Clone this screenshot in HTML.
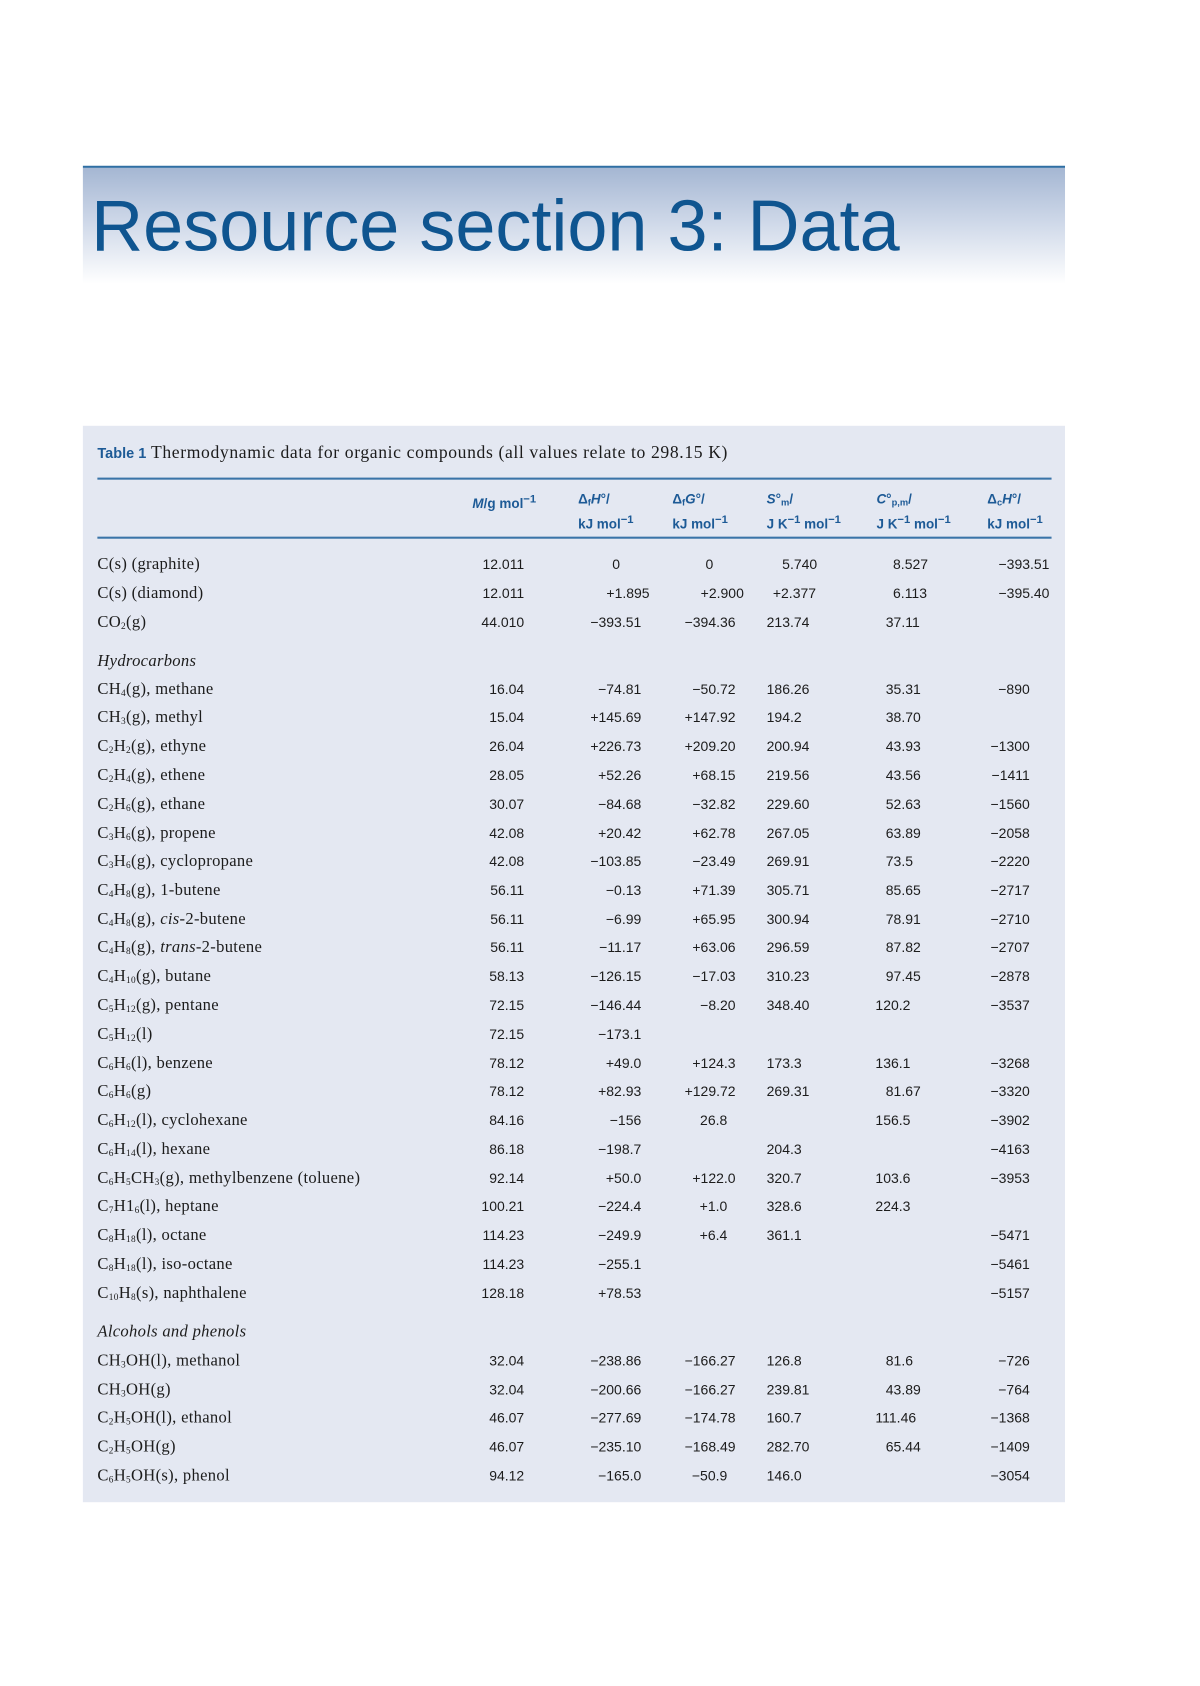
<!DOCTYPE html>
<html><head><meta charset="utf-8"><style>
body{margin:0;width:1200px;height:1627px;background:#fff;overflow:hidden;font-family:"Liberation Serif",serif;color:#1c1c1c}
#w{position:absolute;left:0;top:0;width:1200px;height:1627px;transform:scale(1.036);transform-origin:0 0}
.hdr{position:absolute;left:80px;top:160px;width:948px;height:112px;background:linear-gradient(#a5b7d3,#cdd7e8 45%,#fff);border-top:2px solid #2f6ea3}
.ttl{position:absolute;left:88px;top:178px;font-family:"Liberation Sans",sans-serif;font-size:69.5px;color:#0f5590;white-space:nowrap}
.pan{position:absolute;left:80px;top:411px;width:948px;height:1039px;background:#e4e8f2}
.cap{position:absolute;left:94px;top:427px;font-size:17px;letter-spacing:0.6px;white-space:nowrap}
.cap b{font-family:"Liberation Sans",sans-serif;color:#1d5a96;font-size:14px;letter-spacing:0}
.ln{position:absolute;left:94px;width:921px;height:2px;background:#3a74a8}
.hd{position:absolute;font-family:"Liberation Sans",sans-serif;font-size:13px;color:#1d5a96;font-weight:bold;line-height:20px;white-space:nowrap}
.r{position:absolute;left:0;width:1200px;height:20px;line-height:20px;font-size:16px;letter-spacing:0.3px;white-space:nowrap}
.r span{position:absolute}
.n{left:94px}
.m{right:694px}.h{right:581px}.g{right:490px}.s{left:740px}.c{left:855px}.d{right:206px}
.num{font-family:"Liberation Sans",sans-serif;font-size:13.5px;letter-spacing:0}
sub{font-size:9px;vertical-align:-2px;line-height:0}
i{font-style:italic}
</style></head><body><div id="w">
<div class="hdr"></div>
<div class="ttl">Resource section 3: Data</div>
<div class="pan"></div>
<div class="cap"><b>Table 1</b> Thermodynamic data for organic compounds (all values relate to 298.15 K)</div>
<div class="ln" style="top:461px"></div>
<div class="ln" style="top:518px"></div>
<div class="hd" style="left:456px;top:472px"><i>M</i>/g mol<sup>−1</sup></div>
<div class="hd" style="left:558px;top:472px">Δ<sub>f</sub><i>H</i>°/<br>kJ mol<sup>−1</sup></div>
<div class="hd" style="left:649px;top:472px">Δ<sub>f</sub><i>G</i>°/<br>kJ mol<sup>−1</sup></div>
<div class="hd" style="left:740px;top:472px"><i>S</i>°<sub>m</sub>/<br>J K<sup>−1</sup> mol<sup>−1</sup></div>
<div class="hd" style="left:846px;top:472px"><i>C</i>°<sub>p,m</sub>/<br>J K<sup>−1</sup> mol<sup>−1</sup></div>
<div class="hd" style="left:953px;top:472px">Δ<sub>c</sub><i>H</i>°/<br>kJ mol<sup>−1</sup></div>

<div class="r" style="top:535px"><span class="n">C(s) (graphite)</span><span class="m num">12.011</span><span class="num" style="left:591px">0</span><span class="num" style="left:681px">0</span><span class="num" style="left:755px">5.740</span><span class="num" style="left:862px">8.527</span><span class="num" style="right:187px">−393.51</span></div>
<div class="r" style="top:563px"><span class="n">C(s) (diamond)</span><span class="m num">12.011</span><span class="num" style="right:573px">+1.895</span><span class="num" style="right:482px">+2.900</span><span class="num" style="left:746px">+2.377</span><span class="num" style="left:862px">6.113</span><span class="num" style="right:187px">−395.40</span></div>
<div class="r" style="top:591px"><span class="n">CO<sub>2</sub>(g)</span><span class="m num">44.010</span><span class="h num">−393.51</span><span class="g num">−394.36</span><span class="s num">213.74</span><span class="c num">37.11</span></div>
<div class="r" style="top:629px"><span class="n"><i>Hydrocarbons</i></span></div>
<div class="r" style="top:656px"><span class="n">CH<sub>4</sub>(g), methane</span><span class="m num">16.04</span><span class="h num">−74.81</span><span class="g num">−50.72</span><span class="s num">186.26</span><span class="c num">35.31</span><span class="d num">−890</span></div>
<div class="r" style="top:683px"><span class="n">CH<sub>3</sub>(g), methyl</span><span class="m num">15.04</span><span class="h num">+145.69</span><span class="g num">+147.92</span><span class="s num">194.2</span><span class="c num">38.70</span></div>
<div class="r" style="top:711px"><span class="n">C<sub>2</sub>H<sub>2</sub>(g), ethyne</span><span class="m num">26.04</span><span class="h num">+226.73</span><span class="g num">+209.20</span><span class="s num">200.94</span><span class="c num">43.93</span><span class="d num">−1300</span></div>
<div class="r" style="top:739px"><span class="n">C<sub>2</sub>H<sub>4</sub>(g), ethene</span><span class="m num">28.05</span><span class="h num">+52.26</span><span class="g num">+68.15</span><span class="s num">219.56</span><span class="c num">43.56</span><span class="d num">−1411</span></div>
<div class="r" style="top:767px"><span class="n">C<sub>2</sub>H<sub>6</sub>(g), ethane</span><span class="m num">30.07</span><span class="h num">−84.68</span><span class="g num">−32.82</span><span class="s num">229.60</span><span class="c num">52.63</span><span class="d num">−1560</span></div>
<div class="r" style="top:795px"><span class="n">C<sub>3</sub>H<sub>6</sub>(g), propene</span><span class="m num">42.08</span><span class="h num">+20.42</span><span class="g num">+62.78</span><span class="s num">267.05</span><span class="c num">63.89</span><span class="d num">−2058</span></div>
<div class="r" style="top:822px"><span class="n">C<sub>3</sub>H<sub>6</sub>(g), cyclopropane</span><span class="m num">42.08</span><span class="h num">−103.85</span><span class="g num">−23.49</span><span class="s num">269.91</span><span class="c num">73.5</span><span class="d num">−2220</span></div>
<div class="r" style="top:850px"><span class="n">C<sub>4</sub>H<sub>8</sub>(g), 1-butene</span><span class="m num">56.11</span><span class="h num">−0.13</span><span class="g num">+71.39</span><span class="s num">305.71</span><span class="c num">85.65</span><span class="d num">−2717</span></div>
<div class="r" style="top:878px"><span class="n">C<sub>4</sub>H<sub>8</sub>(g), <i>cis</i>-2-butene</span><span class="m num">56.11</span><span class="h num">−6.99</span><span class="g num">+65.95</span><span class="s num">300.94</span><span class="c num">78.91</span><span class="d num">−2710</span></div>
<div class="r" style="top:905px"><span class="n">C<sub>4</sub>H<sub>8</sub>(g), <i>trans</i>-2-butene</span><span class="m num">56.11</span><span class="h num">−11.17</span><span class="g num">+63.06</span><span class="s num">296.59</span><span class="c num">87.82</span><span class="d num">−2707</span></div>
<div class="r" style="top:933px"><span class="n">C<sub>4</sub>H<sub>10</sub>(g), butane</span><span class="m num">58.13</span><span class="h num">−126.15</span><span class="g num">−17.03</span><span class="s num">310.23</span><span class="c num">97.45</span><span class="d num">−2878</span></div>
<div class="r" style="top:961px"><span class="n">C<sub>5</sub>H<sub>12</sub>(g), pentane</span><span class="m num">72.15</span><span class="h num">−146.44</span><span class="g num">−8.20</span><span class="s num">348.40</span><span class="c num" style="left:845px">120.2</span><span class="d num">−3537</span></div>
<div class="r" style="top:989px"><span class="n">C<sub>5</sub>H<sub>12</sub>(l)</span><span class="m num">72.15</span><span class="h num">−173.1</span></div>
<div class="r" style="top:1017px"><span class="n">C<sub>6</sub>H<sub>6</sub>(l), benzene</span><span class="m num">78.12</span><span class="h num">+49.0</span><span class="g num">+124.3</span><span class="s num">173.3</span><span class="c num" style="left:845px">136.1</span><span class="d num">−3268</span></div>
<div class="r" style="top:1044px"><span class="n">C<sub>6</sub>H<sub>6</sub>(g)</span><span class="m num">78.12</span><span class="h num">+82.93</span><span class="g num">+129.72</span><span class="s num">269.31</span><span class="c num">81.67</span><span class="d num">−3320</span></div>
<div class="r" style="top:1072px"><span class="n">C<sub>6</sub>H<sub>12</sub>(l), cyclohexane</span><span class="m num">84.16</span><span class="h num">−156</span><span class="g num" style="right:498px">26.8</span><span class="c num" style="left:845px">156.5</span><span class="d num">−3902</span></div>
<div class="r" style="top:1100px"><span class="n">C<sub>6</sub>H<sub>14</sub>(l), hexane</span><span class="m num">86.18</span><span class="h num">−198.7</span><span class="s num">204.3</span><span class="d num">−4163</span></div>
<div class="r" style="top:1128px"><span class="n">C<sub>6</sub>H<sub>5</sub>CH<sub>3</sub>(g), methylbenzene (toluene)</span><span class="m num">92.14</span><span class="h num">+50.0</span><span class="g num">+122.0</span><span class="s num">320.7</span><span class="c num" style="left:845px">103.6</span><span class="d num">−3953</span></div>
<div class="r" style="top:1155px"><span class="n">C<sub>7</sub>H1<sub>6</sub>(l), heptane</span><span class="m num">100.21</span><span class="h num">−224.4</span><span class="g num" style="right:498px">+1.0</span><span class="s num">328.6</span><span class="c num" style="left:845px">224.3</span></div>
<div class="r" style="top:1183px"><span class="n">C<sub>8</sub>H<sub>18</sub>(l), octane</span><span class="m num">114.23</span><span class="h num">−249.9</span><span class="g num" style="right:498px">+6.4</span><span class="s num">361.1</span><span class="d num">−5471</span></div>
<div class="r" style="top:1211px"><span class="n">C<sub>8</sub>H<sub>18</sub>(l), iso-octane</span><span class="m num">114.23</span><span class="h num">−255.1</span><span class="d num">−5461</span></div>
<div class="r" style="top:1239px"><span class="n">C<sub>10</sub>H<sub>8</sub>(s), naphthalene</span><span class="m num">128.18</span><span class="h num">+78.53</span><span class="d num">−5157</span></div>
<div class="r" style="top:1276px"><span class="n"><i>Alcohols and phenols</i></span></div>
<div class="r" style="top:1304px"><span class="n">CH<sub>3</sub>OH(l), methanol</span><span class="m num">32.04</span><span class="h num">−238.86</span><span class="g num">−166.27</span><span class="s num">126.8</span><span class="c num">81.6</span><span class="d num">−726</span></div>
<div class="r" style="top:1332px"><span class="n">CH<sub>3</sub>OH(g)</span><span class="m num">32.04</span><span class="h num">−200.66</span><span class="g num">−166.27</span><span class="s num">239.81</span><span class="c num">43.89</span><span class="d num">−764</span></div>
<div class="r" style="top:1359px"><span class="n">C<sub>2</sub>H<sub>5</sub>OH(l), ethanol</span><span class="m num">46.07</span><span class="h num">−277.69</span><span class="g num">−174.78</span><span class="s num">160.7</span><span class="c num" style="left:845px">111.46</span><span class="d num">−1368</span></div>
<div class="r" style="top:1387px"><span class="n">C<sub>2</sub>H<sub>5</sub>OH(g)</span><span class="m num">46.07</span><span class="h num">−235.10</span><span class="g num">−168.49</span><span class="s num">282.70</span><span class="c num">65.44</span><span class="d num">−1409</span></div>
<div class="r" style="top:1415px"><span class="n">C<sub>6</sub>H<sub>5</sub>OH(s), phenol</span><span class="m num">94.12</span><span class="h num">−165.0</span><span class="g num" style="right:498px">−50.9</span><span class="s num">146.0</span><span class="d num">−3054</span></div>
</div></body></html>
